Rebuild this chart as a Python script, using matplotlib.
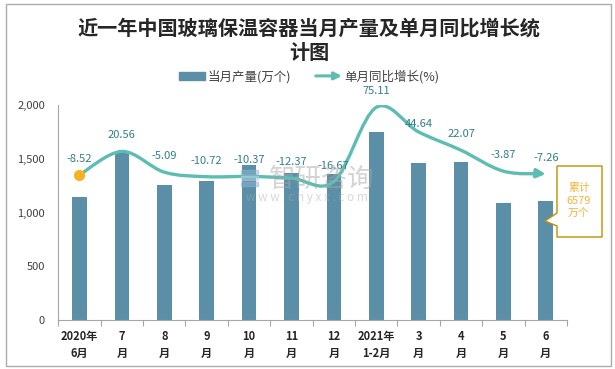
import numpy as np
import matplotlib
matplotlib.use("Agg")
import matplotlib.pyplot as plt
from matplotlib.path import Path
from matplotlib.patches import FancyArrowPatch, Patch, Polygon, Rectangle
from matplotlib.lines import Line2D
from matplotlib.legend_handler import HandlerBase

plt.rcParams["font.family"] = ["Noto Sans CJK SC", "DejaVu Sans"]

# data
months = ["2020年\n6月", "7\n月", "8\n月", "9\n月", "10\n月", "11\n月", "12\n月",
          "2021年\n1-2月", "3\n月", "4\n月", "5\n月", "6\n月"]
output = [1147, 1552, 1257, 1296, 1442, 1372, 1362, 1752, 1463, 1473, 1085, 1110]
yoy = [-8.52, 20.56, -5.09, -10.72, -10.37, -12.37, -16.67, 75.11, 44.64, 22.07, -3.87, -7.26]
yticks = [0, 500, 1000, 1500, 2000]

title = "近一年中国玻璃保温容器当月产量及单月同比增长统\n计图"
bar_name = "当月产量(万个)"
line_name = "单月同比增长(%)"
note = "累计\n6579\n万个"

BAR_C = "#5B8FA8"
LINE_C = "#5EBDB2"
LABEL_C = "#2F7F8C"
TEXT_C = "#404040"
DOT_C = "#F5B324"

W, H = 615, 369


def fx(px):
    return px / W


def fy(py):
    return 1 - py / H


class ArrowHandler(HandlerBase):
    def create_artists(self, legend, orig_handle, xdescent, ydescent,
                       width, height, fontsize, trans):
        y = height / 2 - ydescent
        a = FancyArrowPatch((-xdescent, y), (width - xdescent, y),
                            arrowstyle="-|>", mutation_scale=11, lw=2.2,
                            color=LINE_C, shrinkA=0, shrinkB=0, transform=trans)
        return [a]


fig = plt.figure(figsize=(6.15, 3.69), dpi=100)

# outer frame
fig.patches.append(Rectangle((fx(6), fy(366)), fx(605), 362 / H, transform=fig.transFigure,
                             fill=False, ec="#ABABAB", lw=1))

ax = fig.add_axes([fx(58.3), fy(320), fx(508.7), 215 / H])
x = np.arange(len(months))
ax.bar(x, output, width=0.345, color=BAR_C, zorder=2)
ax.set_xlim(-0.5, len(months) - 0.5)
ax.set_ylim(0, 2000)
ax.set_yticks(yticks)
ax.set_yticklabels([f"{v:,}" for v in yticks])
ax.tick_params(axis="y", length=0, pad=9.5, labelsize=8, labelcolor=TEXT_C)
ax.set_xticks(x)
ax.set_xticklabels(months, fontsize=8, fontweight="bold", color="#262626", linespacing=1.4)
ax.tick_params(axis="x", which="major", length=0, pad=7)
ax.set_xticks(np.arange(-0.5, len(months)), minor=True)
ax.tick_params(axis="x", which="minor", length=4, color="#A6A6A6", width=0.8)
for s in ["top", "right"]:
    ax.spines[s].set_visible(False)
for s in ["left", "bottom"]:
    ax.spines[s].set_color("#A6A6A6")

# secondary axis for growth rate
ax2 = ax.twinx()
ax2.set_ylim(-188, 78)
ax2.axis("off")

# smoothed line (Catmull-Rom as cubic Bezier segments)
pts = np.column_stack([x, yoy]).astype(float)
n = len(pts)
verts = [pts[0]]
codes = [Path.MOVETO]
for i in range(n - 1):
    p0 = pts[max(i - 1, 0)]
    p1 = pts[i]
    p2 = pts[i + 1]
    p3 = pts[min(i + 2, n - 1)]
    verts += [p1 + (p2 - p0) / 6, p2 - (p3 - p1) / 6, p2]
    codes += [Path.CURVE4] * 3
curve = FancyArrowPatch(path=Path(verts, codes), arrowstyle="-|>", mutation_scale=13,
                        lw=2.4, color=LINE_C, transform=ax2.transData, zorder=3)
ax2.add_patch(curve)
ax2.plot(x[0], yoy[0], "o", ms=7, color=DOT_C, zorder=4)

for i, v in enumerate(yoy):
    dy = 6 if i == 8 else 11.5
    ax2.annotate(f"{v:.2f}", (x[i], v), xytext=(0, dy), textcoords="offset points",
                 ha="center", va="center", fontsize=8, color=LABEL_C, zorder=5)

# watermark
fig.text(fx(322), fy(179), "智研咨询", fontsize=19, color="#A8A8A8", alpha=0.5,
         ha="center", va="center")
fig.text(fx(307), fy(198), "w w w . c h y x x . c o m", fontsize=8.5, color="#A8A8A8",
         alpha=0.45, ha="center", va="center")
for k, c in enumerate(["#8FB3D3", "#B9D2E6", "#8FB3D3"]):
    fig.patches.append(Rectangle((fx(241), fy(174 + k * 6)), fx(17), 4 / H,
                                 transform=fig.transFigure, color=c, alpha=0.5))

# callout box
box = [(557, 166), (602, 166), (602, 237), (557, 237), (557, 226), (545, 221), (557, 213)]
fig.patches.append(Polygon([(fx(a), fy(b)) for a, b in box], closed=True,
                           transform=fig.transFigure, fc="white", ec="#BF9000", lw=1, zorder=6))
fig.text(fx(579), fy(201), note, ha="center", va="center", fontsize=7.8,
         color="#F2B43A", linespacing=1.4, zorder=7)

# title and legend
fig.text(fx(309), fy(40.5), title, ha="center", va="center", fontsize=14.5,
         fontweight="bold", color="#262626", linespacing=1.2)
bar_h = Patch(color=BAR_C)
line_h = Line2D([], [], color=LINE_C)
fig.legend([bar_h, line_h], [bar_name, line_name], loc="center",
           bbox_to_anchor=(fx(309), fy(76.5)), ncol=2, frameon=False, fontsize=9,
           labelcolor=TEXT_C, handlelength=2.1, handleheight=0.55, handletextpad=0.2,
           columnspacing=2.0, handler_map={line_h: ArrowHandler()})

fig.savefig("out.png", dpi=100)
